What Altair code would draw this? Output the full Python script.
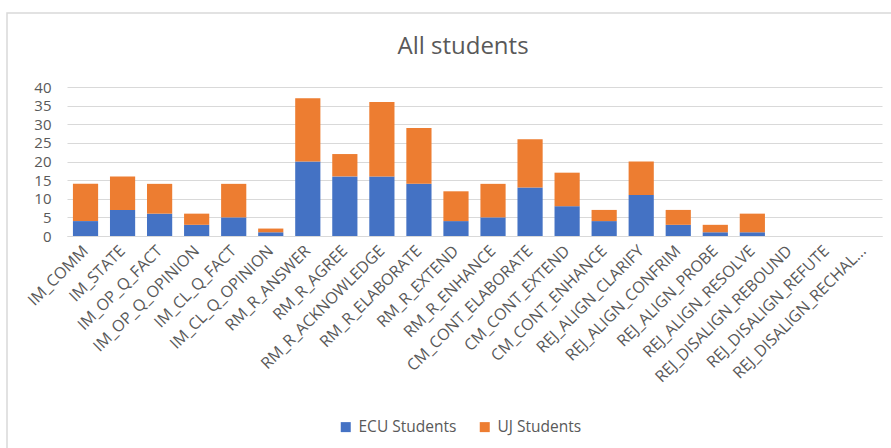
import altair as alt
import pandas as pd

categories = ["IM_COMM", "IM_STATE", "IM_OP_Q_FACT", "IM_OP_Q_OPINION", "IM_CL_Q_FACT",
              "IM_CL_Q_OPINION", "RM_R_ANSWER", "RM_R_AGREE", "RM_R_ACKNOWLEDGE",
              "RM_R_ELABORATE", "RM_R_EXTEND", "RM_R_ENHANCE", "CM_CONT_ELABORATE",
              "CM_CONT_EXTEND", "CM_CONT_ENHANCE", "REJ_ALIGN_CLARIFY", "REJ_ALIGN_CONFRIM",
              "REJ_ALIGN_PROBE", "REJ_ALIGN_RESOLVE", "REJ_DISALIGN_REBOUND",
              "REJ_DISALIGN_REFUTE", "REJ_DISALIGN_RECHAL..."]
ecu = [4, 7, 6, 3, 5, 1, 20, 16, 16, 14, 4, 5, 13, 8, 4, 11, 3, 1, 1, 0, 0, 0]
uj = [10, 9, 8, 3, 9, 1, 17, 6, 20, 15, 8, 9, 13, 9, 3, 9, 4, 2, 5, 0, 0, 0]
series = ["ECU Students", "UJ Students"]
colors = ["#4472C4", "#ED7D31"]
title_text = "All students"

rows = []
for c, a, b in zip(categories, ecu, uj):
    rows.append({"cat": c, "series": series[0], "value": a, "ord": 0})
    rows.append({"cat": c, "series": series[1], "value": b, "ord": 1})
df = pd.DataFrame(rows)

FONT = "Open Sans"
GRAY = "#595959"

bars = alt.Chart(df).mark_bar().encode(
    x=alt.X("cat:N", sort=categories, title=None,
            scale=alt.Scale(paddingInner=0.32, paddingOuter=0.16),
            axis=alt.Axis(labelAngle=-45, labelAlign="right", labelBaseline="middle",
                          labelFontSize=16, labelColor=GRAY, labelFont=FONT,
                          labelPadding=12, ticks=False, domain=True, domainColor="#D9D9D9",
                          labelLimit=300, labelOverlap=False)),
    y=alt.Y("value:Q", stack="zero", title=None,
            scale=alt.Scale(domain=[0, 40], nice=False),
            axis=alt.Axis(values=[0, 5, 10, 15, 20, 25, 30, 35, 40], ticks=False, domain=False,
                          labelFontSize=15, labelColor=GRAY, labelFont=FONT, labelPadding=16,
                          gridColor="#D9D9D9", gridWidth=1)),
    color=alt.Color("series:N", sort=series,
                    scale=alt.Scale(domain=series, range=colors),
                    legend=alt.Legend(title=None, orient="none", legendX=271, legendY=332,
                                      direction="horizontal", symbolType="square",
                                      symbolSize=100, symbolStrokeWidth=0,
                                      labelFontSize=15.5, labelColor=GRAY, labelFont=FONT,
                                      columnPadding=20, labelOffset=5)),
    order=alt.Order("ord:Q"),
)

deco = pd.DataFrame({"t": [title_text]})

border = alt.Chart(deco).mark_rect(
    fill=None, stroke="#D9D9D9", strokeWidth=1.5
).encode(x=alt.value(-60), x2=alt.value(900), y=alt.value(-74), y2=alt.value(400))

title = alt.Chart(deco).mark_text(
    font=FONT, fontSize=24, color=GRAY, align="center", baseline="middle"
).encode(text="t:N", x=alt.value(396), y=alt.value(-40))

chart = alt.layer(border, title, bars).properties(
    width=815, height=149,
    autosize=alt.AutoSizeParams(type="none"),
    padding={"left": 67, "top": 87, "right": 9, "bottom": 212},
).configure_view(stroke=None)

chart.save("out.html", embed_options={"renderer": "svg", "actions": False})
